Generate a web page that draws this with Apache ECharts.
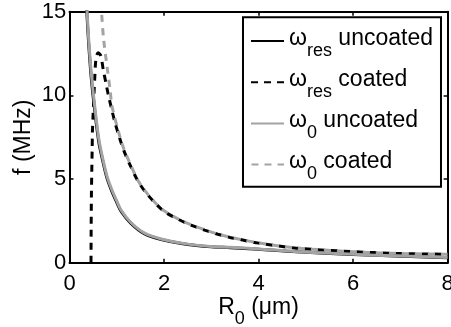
<!DOCTYPE html>
<html><head><meta charset="utf-8">
<script src="https://cdn.jsdelivr.net/npm/echarts@6/dist/echarts.min.js"></script>
<style>html,body{margin:0;padding:0;background:#fff}#c{width:451px;height:327px}</style>
</head><body><div id="c"></div>
<script>
// ---- data ----
const xTicks = [0, 2, 4, 6, 8];
const yTicks = [0, 5, 10, 15];

// uncoated curves (R0 in µm, f in MHz)
const R_unc      = [0.355, 0.372, 0.41, 0.465, 0.54, 0.62, 0.69, 0.79, 0.89, 0.99, 1.09, 1.30, 1.58, 1.94, 2.43, 3.0, 3.4, 4.0, 4.8, 6.0, 6.9, 8.0];
const f_res_unc  = [15.7, 14.7, 12.9, 10.9, 8.95, 7.2, 6.25, 5.08, 4.3, 3.66, 3.08, 2.35, 1.74, 1.39, 1.12, 0.95, 0.90, 0.80, 0.65, 0.49, 0.40, 0.30];
const f_0_unc    = [16.1, 15.0, 13.2, 11.2, 9.2, 7.4, 6.4, 5.2, 4.4, 3.75, 3.15, 2.4, 1.78, 1.42, 1.14, 0.97, 0.92, 0.82, 0.66, 0.50, 0.41, 0.31];

// coated, omega_0
const R_0_coat   = [0.662, 0.677, 0.72, 0.80, 0.86, 0.89, 0.94, 1.04, 1.09, 1.15, 1.30, 1.44, 1.58, 1.79, 2.0, 2.29, 2.57, 2.86, 3.14, 3.4, 3.6, 4.0, 4.8, 6.0, 6.9, 8.0];
const f_0_coat   = [15.6, 15.0, 13.4, 11.6, 10.3, 9.5, 8.85, 7.8, 7.3, 6.8, 5.8, 4.96, 4.36, 3.66, 3.1, 2.63, 2.27, 1.97, 1.71, 1.52, 1.40, 1.18, 0.88, 0.66, 0.56, 0.50];

// coated, omega_res
const R_res_coat = [0.455, 0.458, 0.464, 0.479, 0.486, 0.50, 0.52, 0.537, 0.55, 0.57, 0.607, 0.664, 0.713, 0.77, 0.82, 0.89, 0.96, 1.06, 1.15, 1.30, 1.44, 1.58, 1.79, 2.0, 2.29, 2.57, 2.86, 3.14, 3.4, 3.6, 4.0, 4.8, 6.0, 6.9, 8.0];
const f_res_coat = [0, 2.0, 4.1, 6.7, 7.9, 8.9, 10.2, 11.2, 11.9, 12.35, 12.55, 12.35, 11.55, 10.75, 10.05, 9.2, 8.4, 7.45, 6.7, 5.72, 4.92, 4.32, 3.63, 3.07, 2.61, 2.25, 1.95, 1.70, 1.51, 1.39, 1.17, 0.87, 0.66, 0.56, 0.50];

// legend labels: symbol, subscript, rest
const legendParts = {
  'ωres uncoated': ['ω', 'res', ' uncoated'],
  'ωres coated':   ['ω', 'res', ' coated'],
  'ω0 uncoated':   ['ω', '0', ' uncoated'],
  'ω0 coated':     ['ω', '0', ' coated']
};
const seriesNames = Object.keys(legendParts);

function pairs(xs, ys) { return xs.map((x, i) => [x, ys[i]]); }

const FONT = 'Liberation Sans, Arial, Helvetica, sans-serif';
const BLACK = '#000000', GRAY = '#a3a3a3';

const chart = echarts.init(document.getElementById('c'), null, {renderer: 'canvas'});

const tickStyle = {show: true, inside: true, length: 4, lineStyle: {color: BLACK, width: 1.5}};
const lineStyleAxis = {show: true, onZero: false, lineStyle: {color: BLACK, width: 2}};

const option = {
  animation: false,
  backgroundColor: '#fff',
  grid: {left: 69.5, right: 3.4, top: 11.7, bottom: 64.3, containLabel: false, outerBoundsMode: 'none'},
  legend: {
    data: seriesNames,
    orient: 'vertical',
    left: 243, top: 17.3,
    padding: [4.7, 8, 3.1, 7],
    itemWidth: 33, itemHeight: 14, itemGap: 3.2,
    borderColor: BLACK, borderWidth: 2, backgroundColor: '#fff',
    borderRadius: 0,
    itemStyle: {opacity: 0, borderWidth: 0},
    formatter: function (name) {
      const p = legendParts[name];
      return '{m|' + p[0] + '}{s|' + p[1] + '}{m|' + p[2] + '}';
    },
    textStyle: {
      fontFamily: FONT, fontSize: 23, color: BLACK, lineHeight: 38,
      rich: {
        m: {fontFamily: FONT, fontSize: 23, color: BLACK, lineHeight: 38, verticalAlign: 'middle', padding: [0, 0, 5.4, 0]},
        s: {fontFamily: FONT, fontSize: 18, color: BLACK, lineHeight: 38, verticalAlign: 'middle', padding: [19.8, 0, 0, 0]}
      }
    },
    selectedMode: false
  },
  xAxis: [{
    type: 'value', position: 'bottom', min: xTicks[0], max: xTicks[xTicks.length - 1], interval: xTicks[1] - xTicks[0],
    axisLine: lineStyleAxis, axisTick: tickStyle, splitLine: {show: false},
    axisLabel: {show: true, color: BLACK, fontFamily: FONT, fontSize: 22, margin: 10, showMinLabel: true, showMaxLabel: true},
    name: '{m|R}{s|0}{m| (μm)}', nameLocation: 'middle', nameGap: 30.3, nameMoveOverlap: false,
    nameTextStyle: {
      fontFamily: FONT, fontSize: 23, color: BLACK, lineHeight: 30,
      rich: {
        m: {fontFamily: FONT, fontSize: 23, color: BLACK, lineHeight: 30, verticalAlign: 'middle'},
        s: {fontFamily: FONT, fontSize: 18, color: BLACK, lineHeight: 30, verticalAlign: 'middle', padding: [22, 0, 0, 0]}
      }
    }
  }, {
    type: 'value', position: 'top', min: xTicks[0], max: xTicks[xTicks.length - 1], interval: xTicks[1] - xTicks[0],
    axisLine: lineStyleAxis, axisTick: tickStyle, splitLine: {show: false}, axisLabel: {show: false}
  }],
  yAxis: [{
    type: 'value', position: 'left', min: yTicks[0], max: yTicks[yTicks.length - 1], interval: yTicks[1] - yTicks[0],
    axisLine: lineStyleAxis, axisTick: tickStyle, splitLine: {show: false},
    axisLabel: {show: true, color: BLACK, fontFamily: FONT, fontSize: 22, margin: 3.2, padding: [4, 0, 0, 0], showMinLabel: true, showMaxLabel: true},
    name: 'f (MHz)', nameLocation: 'middle', nameGap: 34, nameRotate: 90, nameMoveOverlap: false,
    nameTextStyle: {fontFamily: FONT, fontSize: 23, color: BLACK}
  }, {
    type: 'value', position: 'right', min: yTicks[0], max: yTicks[yTicks.length - 1], interval: yTicks[1] - yTicks[0],
    axisLine: lineStyleAxis, axisTick: tickStyle, splitLine: {show: false}, axisLabel: {show: false}
  }],
  series: [
    {name: seriesNames[0], type: 'line', data: pairs(R_unc, f_res_unc), symbol: 'none', smooth: 0.3, clip: true, z: 2,
     lineStyle: {color: BLACK, width: 3, type: 'solid'}, itemStyle: {color: BLACK}},
    {name: seriesNames[1], type: 'line', data: pairs(R_res_coat, f_res_coat), symbol: 'none', smooth: 0.3, clip: true, z: 3,
     lineStyle: {color: BLACK, width: 3, type: [7, 6], dashOffset: 0}, itemStyle: {color: BLACK}},
    {name: seriesNames[2], type: 'line', data: pairs(R_unc, f_0_unc), symbol: 'none', smooth: 0.3, clip: true, z: 3,
     lineStyle: {color: GRAY, width: 3, type: 'solid'}, itemStyle: {color: GRAY}},
    {name: seriesNames[3], type: 'line', data: pairs(R_0_coat, f_0_coat), symbol: 'none', smooth: 0.3, clip: true, z: 4,
     lineStyle: {color: GRAY, width: 3, type: [7, 6], dashOffset: 12.5}, itemStyle: {color: GRAY}}
  ]
};
chart.setOption(option);
</script>
</body></html>
